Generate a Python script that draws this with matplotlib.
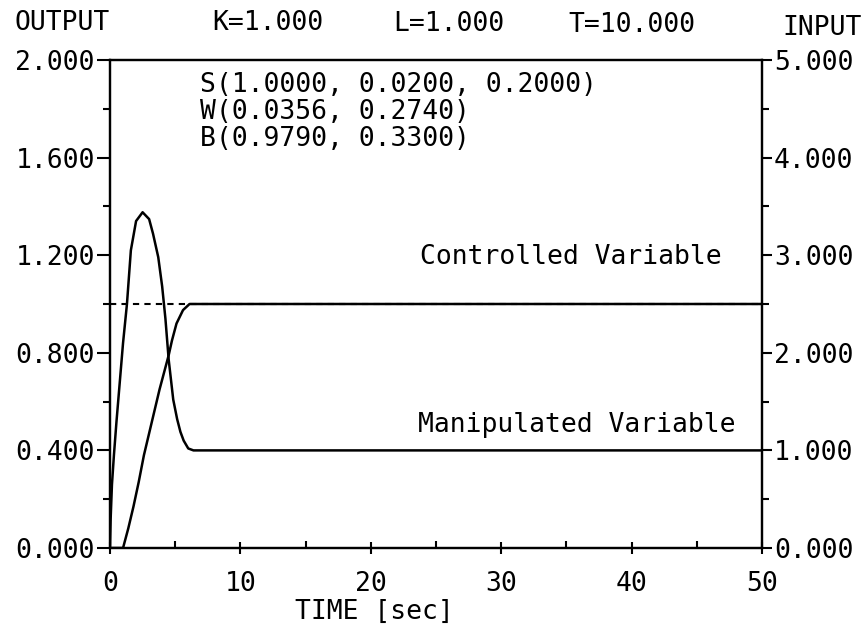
import numpy as np
import matplotlib
matplotlib.use("Agg")
import matplotlib.pyplot as plt
from matplotlib.ticker import MultipleLocator, FormatStrFormatter

t_out = [0.0, 1.0, 1.4, 1.8, 2.2, 2.6, 3.0, 3.4, 3.8, 4.2, 4.5, 4.75, 5.1, 5.6, 6.1, 50.0]
y_out = [0.0, 0.0, 0.08, 0.17, 0.27, 0.38, 0.47, 0.56, 0.65, 0.73, 0.79, 0.85, 0.92, 0.975, 1.0, 1.0]

t_in = [0.0, 0.05, 0.15, 0.3, 0.5, 0.75, 1.0, 1.3, 1.6, 2.0, 2.5, 3.0, 3.3, 3.7, 4.0,
        4.25, 4.5, 4.85, 5.15, 5.4, 5.65, 6.0, 6.4, 50.0]
u_in = [0.0, 0.3, 0.65, 0.95, 1.3, 1.7, 2.1, 2.5, 3.05, 3.35, 3.44, 3.37, 3.22, 2.98, 2.68,
        2.35, 1.93, 1.52, 1.32, 1.19, 1.10, 1.02, 1.0, 1.0]

setpoint = 1.0
header = ["K=1.000", "L=1.000", "T=10.000"]
params = ["S(1.0000, 0.0200, 0.2000)", "W(0.0356, 0.2740)", "B(0.9790, 0.3300)"]

W, H = 864, 636
plt.rcParams['font.family'] = ['DejaVu Sans Mono']
plt.rcParams['font.size'] = 19

f = plt.figure(figsize=(W / 100, H / 100), dpi=100)
ax = f.add_axes([110 / W, 1 - 548 / H, (762 - 110) / W, (548 - 60) / H])
ax2 = ax.twinx()

ax.plot([0, 50], [setpoint, setpoint], color="k", lw=1.5, linestyle=(0, (3, 2.5)))
ax.plot(t_out, y_out, color="k", lw=1.8)
ax2.plot(t_in, u_in, color="k", lw=1.8)

ax.set_xlim(0, 50)
ax.set_ylim(0, 2)
ax2.set_ylim(0, 5)

ax.xaxis.set_major_locator(MultipleLocator(10))
ax.xaxis.set_minor_locator(MultipleLocator(5))
ax.yaxis.set_major_locator(MultipleLocator(0.4))
ax.yaxis.set_minor_locator(MultipleLocator(0.2))
ax.yaxis.set_major_formatter(FormatStrFormatter('%.3f'))
ax2.yaxis.set_major_locator(MultipleLocator(1))
ax2.yaxis.set_minor_locator(MultipleLocator(0.5))
ax2.yaxis.set_major_formatter(FormatStrFormatter('%.3f'))

for a in (ax, ax2):
    for s in a.spines.values():
        s.set_linewidth(1.6)

ax.tick_params(axis='y', which='major', direction='out', length=9.5, width=1.5, pad=1.5)
ax.tick_params(axis='y', which='minor', direction='out', length=5, width=1.5)
ax.tick_params(axis='x', which='major', direction='inout', length=9, width=1.5, pad=12)
ax.tick_params(axis='x', which='minor', direction='in', length=5, width=1.5)
ax2.tick_params(axis='y', which='major', direction='out', length=7.5, width=1.5, pad=1)
ax2.tick_params(axis='y', which='minor', direction='out', length=5, width=1.5)

def ftext(x, y, s, **kw):
    kw.setdefault('va', 'center')
    f.text(x / W, 1 - y / H, s, ha='left', **kw)

ftext(15, 23, "OUTPUT")
ftext(212, 23, header[0])
ftext(393, 24, header[1])
ftext(568, 25, header[2])
ftext(782, 28, "INPUT")
ftext(295, 612, "TIME [sec]")
ftext(200, 72, "\n".join(params), va='top', linespacing=1.05)
ftext(420, 257, "Controlled Variable")
ftext(418, 425, "Manipulated Variable")

f.savefig("out.png", dpi=100)
